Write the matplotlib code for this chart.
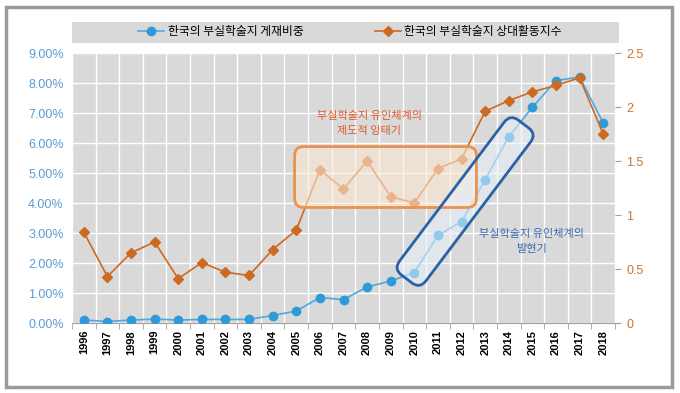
import matplotlib.pyplot as plt
from matplotlib.patches import FancyBboxPatch, Rectangle
from matplotlib.transforms import Affine2D
from matplotlib.ticker import FixedLocator, MultipleLocator, FuncFormatter

plt.rcParams['font.family'] = ['Noto Sans CJK KR', 'DejaVu Sans']

years = ['1996', '1997', '1998', '1999', '2000', '2001', '2002', '2003',
         '2004', '2005', '2006', '2007', '2008', '2009', '2010', '2011',
         '2012', '2013', '2014', '2015', '2016', '2017', '2018']
# 한국의 부실학술지 게재비중 (%)
share_pct = [0.10, 0.05, 0.10, 0.13, 0.10, 0.12, 0.12, 0.12, 0.25, 0.40,
             0.85, 0.78, 1.20, 1.40, 1.68, 2.92, 3.38, 4.78, 6.21, 7.19,
             8.08, 8.20, 6.67]
# 한국의 부실학술지 상대활동지수
activity = [0.84, 0.43, 0.65, 0.75, 0.41, 0.56, 0.47, 0.44, 0.68, 0.86,
            1.42, 1.24, 1.50, 1.17, 1.11, 1.43, 1.52, 1.96, 2.06, 2.14,
            2.20, 2.27, 1.75]
label_share = '한국의 부실학술지 게재비중'
label_act = '한국의 부실학술지 상대활동지수'

blue = '#2E9AD8'
blue_line = '#4FA9DE'
orange = '#CD6A22'

W, H = 680, 393
fig = plt.figure(figsize=(W / 100, H / 100), dpi=100)
left, right, bottom, top = 72, 615, 323, 53
ax = fig.add_axes([left / W, (H - bottom) / H, (right - left) / W, (bottom - top) / H])
ax.set_facecolor('#D9D9D9')
x = list(range(len(years)))

l1, = ax.plot(x, share_pct, color=blue_line, lw=1.2, marker='o', ms=6,
              mfc=blue, mec=blue, zorder=3, label=label_share)
ax.set_xlim(-0.5, len(years) - 0.5)
ax.set_ylim(0, 9)
ax.yaxis.set_major_locator(MultipleLocator(1))
ax.yaxis.set_major_formatter(FuncFormatter(lambda v, p: f'{v:.2f}%'))
ax.set_xticks(x)
ax.set_xticklabels(years, rotation=90, fontsize=8, fontweight='bold',
                   family=['Liberation Sans', 'DejaVu Sans'])
ax.xaxis.set_minor_locator(FixedLocator([i - 0.5 for i in range(len(years) + 1)]))
ax.tick_params(axis='x', which='major', length=0, pad=5)
ax.tick_params(axis='x', which='minor', length=4, color='#A0A0A0')
ax.tick_params(axis='y', length=0, labelcolor='#5B9BD5', labelsize=9, pad=6)
for t in ax.get_yticklabels():
    t.set_family(['Liberation Sans', 'DejaVu Sans'])
ax.grid(which='minor', axis='x', color='white', lw=1.0)
ax.grid(which='major', axis='y', color='white', lw=1.0)
ax.set_axisbelow(True)
for s in ['top', 'left', 'right']:
    ax.spines[s].set_visible(False)
ax.spines['bottom'].set_color('#A0A0A0')

ax2 = ax.twinx()
l2, = ax2.plot(x, activity, color=orange, lw=1.2, marker='D', ms=5.5,
               mfc=orange, mec=orange, zorder=3, label=label_act)
ax2.set_ylim(0, 2.5)
ax2.yaxis.set_major_locator(MultipleLocator(0.5))
ax2.yaxis.set_major_formatter(FuncFormatter(lambda v, p: f'{v:g}'))
ax2.tick_params(axis='y', length=4, color='#A0A0A0', labelcolor='#C87533',
                labelsize=9, pad=4)
for t in ax2.get_yticklabels():
    t.set_family(['Liberation Sans', 'DejaVu Sans'])
for s in ax2.spines.values():
    s.set_visible(False)

# orange rounded box (display coords from data)
(ox0, oy0) = ax.transData.transform((8.93, 3.85))
(ox1, oy1) = ax.transData.transform((16.63, 5.88))
obox = FancyBboxPatch((ox0, oy0), ox1 - ox0, oy1 - oy0,
                      boxstyle='round,pad=0,rounding_size=9',
                      facecolor='#FCE6D2', alpha=0.6, edgecolor='none',
                      transform=None, zorder=5, clip_on=False)
obox.set_transform(Affine2D())
fig.add_artist(obox)
obox_e = FancyBboxPatch((ox0, oy0), ox1 - ox0, oy1 - oy0,
                        boxstyle='round,pad=0,rounding_size=9',
                        facecolor='none', edgecolor='#EA9350', lw=2.0,
                        zorder=6, clip_on=False)
obox_e.set_transform(Affine2D())
fig.add_artist(obox_e)

# blue rotated rounded box
cx, cy = ax.transData.transform((16.15, 4.05))
bw, bh = 194, 33
rot = Affine2D().rotate_deg_around(cx, cy, 53)
bbox_f = FancyBboxPatch((cx - bw / 2, cy - bh / 2), bw, bh,
                        boxstyle='round,pad=0,rounding_size=10',
                        facecolor='#E8F1FB', alpha=0.55, edgecolor='none',
                        zorder=5, clip_on=False)
bbox_f.set_transform(rot)
fig.add_artist(bbox_f)
bbox_e = FancyBboxPatch((cx - bw / 2, cy - bh / 2), bw, bh,
                        boxstyle='round,pad=0,rounding_size=10',
                        facecolor='none', edgecolor='#2B62A6', lw=2.0,
                        zorder=6, clip_on=False)
bbox_e.set_transform(rot)
fig.add_artist(bbox_e)

ax.text(12.1, 6.64, '부실학술지 유인체계의\n제도적 잉태기', ha='center', va='center',
        color='#E05A2B', fontsize=8, linespacing=1.6, zorder=7)
ax.text(18.96, 2.72, '부실학술지 유인체계의\n발현기', ha='center', va='center',
        color='#3A6BB0', fontsize=8, linespacing=1.6, zorder=7)

# legend band
fig.add_artist(Rectangle((left / W, (H - 43) / H), (619 - left) / W, 21 / H,
                         transform=fig.transFigure, facecolor='#D9D9D9',
                         edgecolor='none', zorder=0))
fig.legend([l1, l2], [label_share, label_act], loc='center',
           bbox_to_anchor=(350 / W, (H - 32) / H), ncol=2, frameon=False,
           fontsize=8.5, columnspacing=6.0, handlelength=2.2, handletextpad=0.3)

# outer frame
fig.add_artist(Rectangle((6 / W, 6 / H), 666 / W, 380 / H, transform=fig.transFigure,
                         facecolor='none', edgecolor='#9A9A9A', lw=2.5))

fig.savefig('out.png', dpi=100)
